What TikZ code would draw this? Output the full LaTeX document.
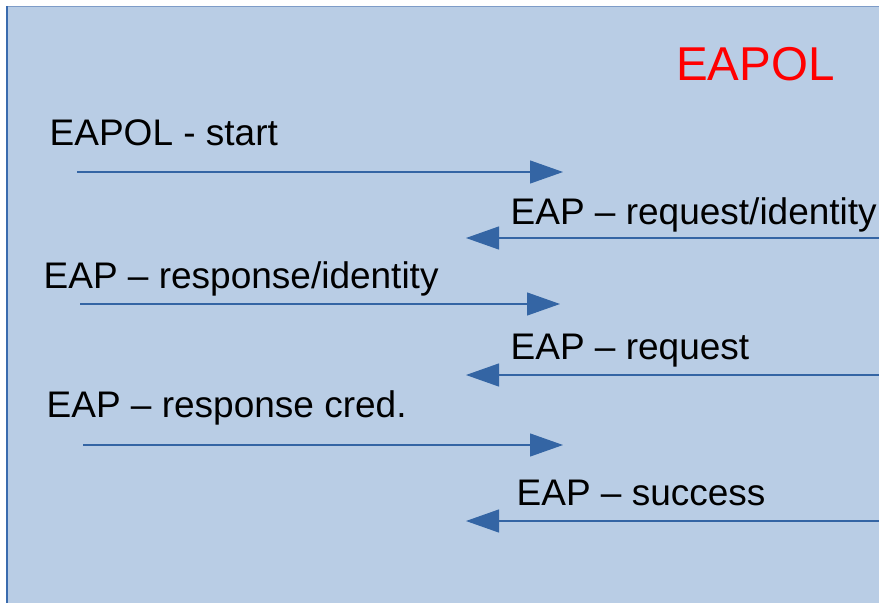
\documentclass[tikz,border=0pt]{standalone}
\usepackage{fontspec}
\setmainfont{Liberation Sans}
\usetikzlibrary{arrows.meta}
\definecolor{bgblue}{HTML}{B9CDE5}
\definecolor{edgeblue}{HTML}{3A6BAE}
\definecolor{topedge}{HTML}{7E9CC8}
\definecolor{arrblue}{HTML}{3465A4}
\definecolor{eapred}{HTML}{FF0000}
\tikzset{
  lbl/.style={anchor=base west, inner sep=0pt, font=\fontsize{37}{42}\selectfont, text=black},
  title/.style={anchor=base west, inner sep=0pt, font=\fontsize{47.5}{52}\selectfont, text=eapred},
  msg/.style={draw=arrblue, line width=1.2pt, -{Triangle[length=33pt,width=23pt,fill=arrblue]}},
}
\begin{document}
\begin{tikzpicture}[x=1pt,y=-1pt]
\useasboundingbox (0,0) rectangle (879,603);
\fill[white] (0,0) rectangle (879,603);
\fill[bgblue] (6,6) rectangle (879,603);
\draw[topedge, line width=1.8pt] (6,6.5) -- (879,6.5);
\draw[edgeblue, line width=2pt] (6.5,6) -- (6.5,603);

\node[title] (t) at (676,80) {EAPOL};

\node[lbl] (l1) at (49.5,145) {EAPOL - start};
\node[lbl] (l2) at (510.5,224) {EAP – request/identity};
\node[lbl] (l3) at (43.5,288) {EAP – response/identity};
\node[lbl] (l4) at (510.5,359) {EAP – request};
\node[lbl] (l5) at (46.5,417) {EAP – response cred.};
\node[lbl] (l6) at (516.5,505) {EAP – success};

\coordinate (a1s) at (77,172);  \coordinate (a1e) at (563,172);
\coordinate (a2s) at (879,238); \coordinate (a2e) at (466,238);
\coordinate (a3s) at (80,304);  \coordinate (a3e) at (560,304);
\coordinate (a4s) at (879,375); \coordinate (a4e) at (466,375);
\coordinate (a5s) at (83,445);  \coordinate (a5e) at (563,445);
\coordinate (a6s) at (879,521); \coordinate (a6e) at (466,521);

\draw[msg] (a1s) -- (a1e);
\draw[msg] (a2s) -- (a2e);
\draw[msg] (a3s) -- (a3e);
\draw[msg] (a4s) -- (a4e);
\draw[msg] (a5s) -- (a5e);
\draw[msg] (a6s) -- (a6e);
\end{tikzpicture}
\end{document}
